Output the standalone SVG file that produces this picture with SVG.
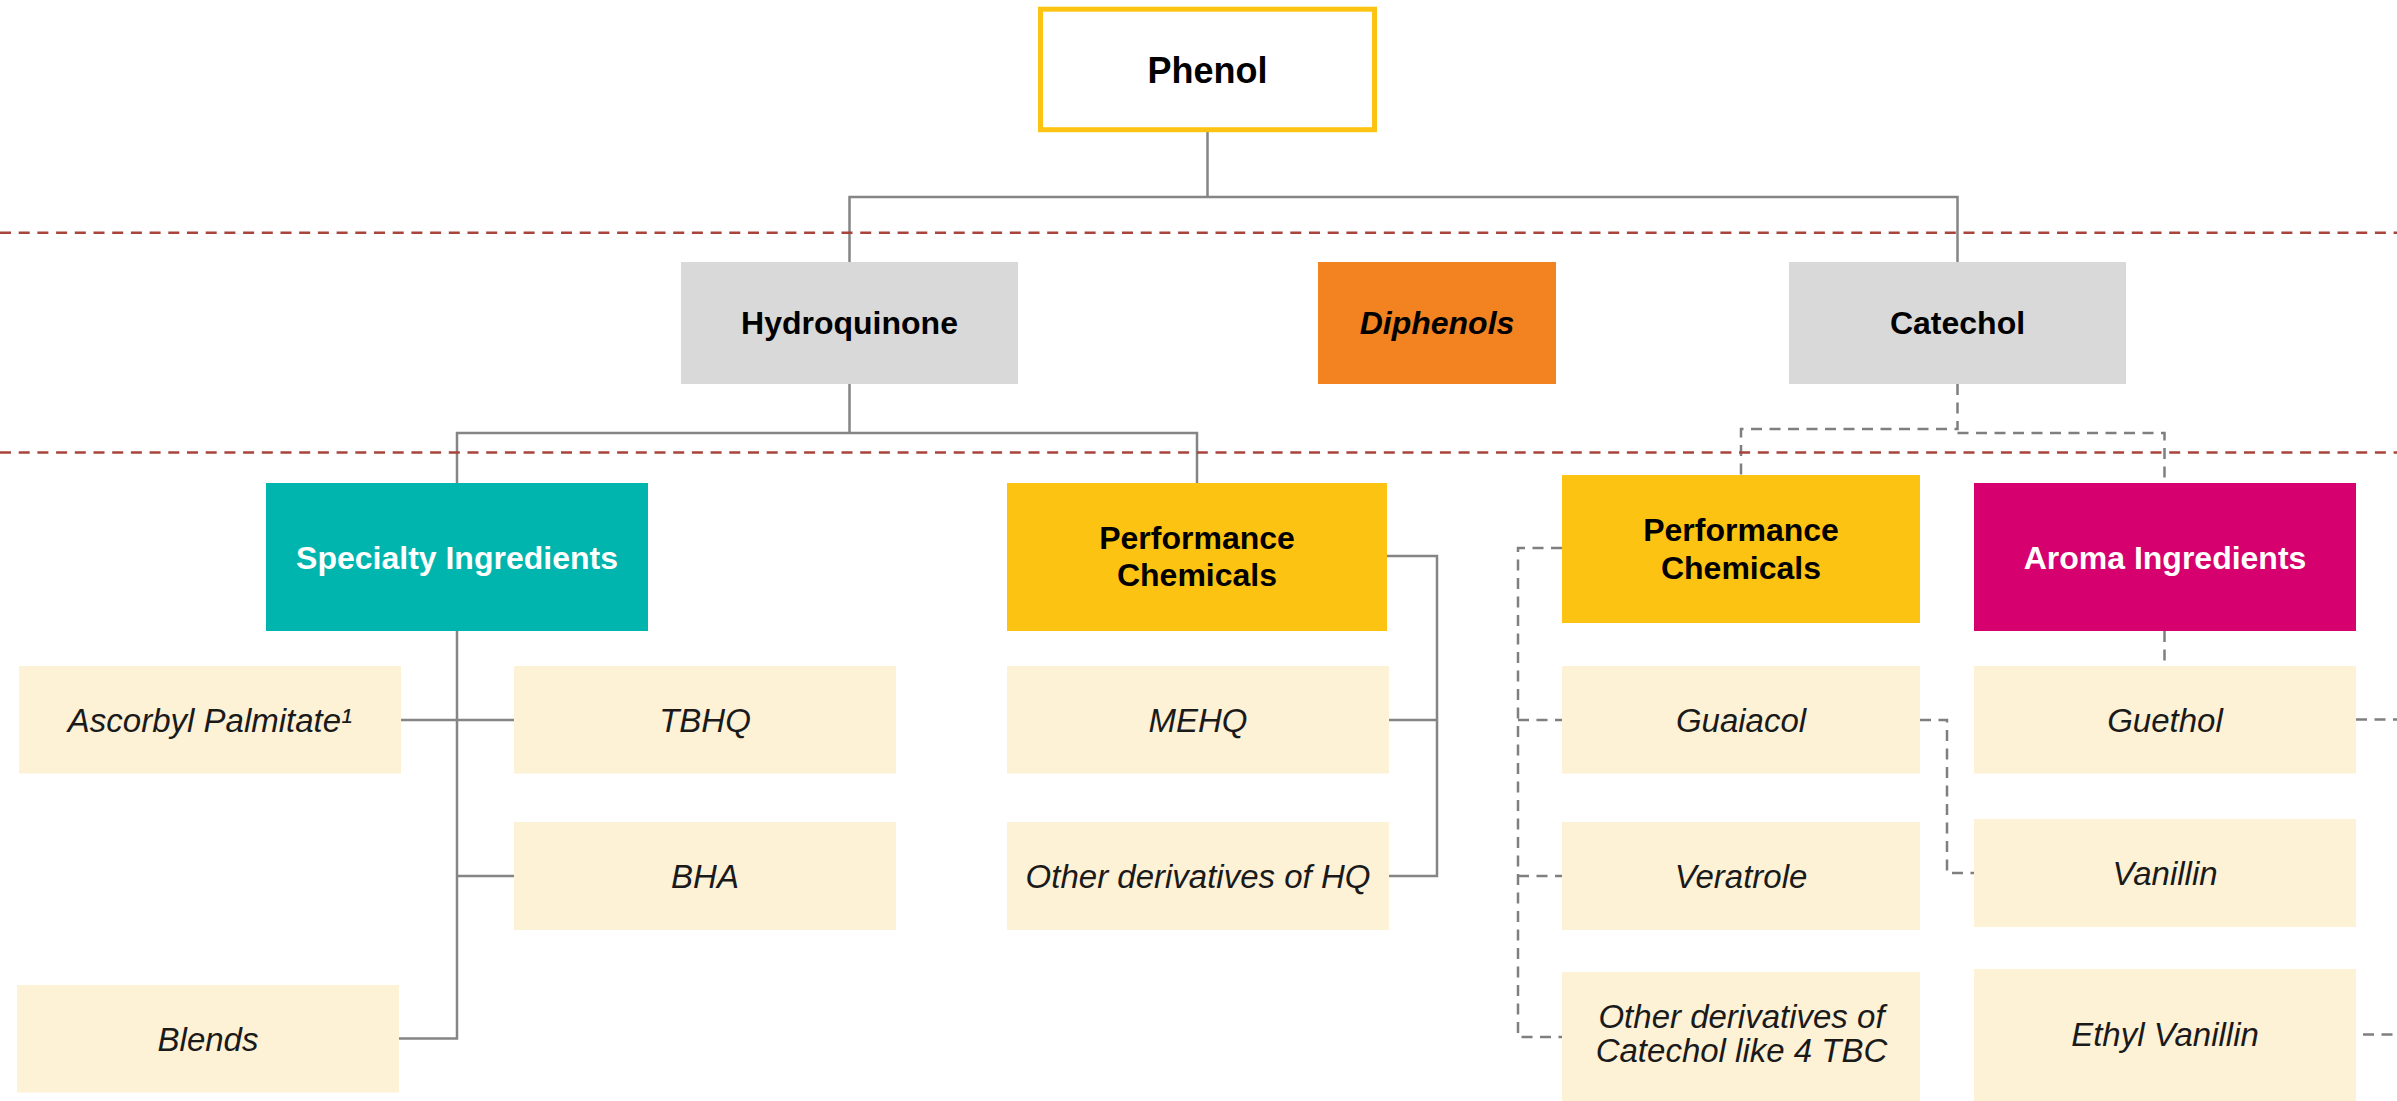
<svg xmlns="http://www.w3.org/2000/svg" width="2397" height="1101" viewBox="0 0 2397 1101">
  <style>
    .t { font-family: "Liberation Sans", Arial, sans-serif; text-anchor: middle; }
    .head { font-size: 32px; font-weight: bold; fill: #000; }
    .white { fill: #fff; }
    .item { font-size: 33px; font-style: italic; fill: #1a1a1a; }
    .cream { fill: #FDF1D6; }
    .grey { fill: #D9D9D9; }
    .yellow { fill: #FDC312; }
    .solid { fill: none; stroke: #858585; stroke-width: 2.5; }
    .dash { fill: none; stroke: #7F7F7F; stroke-width: 2.5; stroke-dasharray: 11 7.5; }
    .red { fill: none; stroke: #A8443C; stroke-width: 2.5; stroke-dasharray: 11 7.7; }
  </style>
  <rect width="2397" height="1101" fill="#fff"/>

  <g id="connectors">
    <path class="solid" d="M1207.5 132 V197 M849.5 262 V197 H1957.5 V262"/>
    <path class="solid" d="M849.5 384 V433 M457 483 V433 H1197 V483"/>
    <path class="solid" d="M457 631 V1038.5 H399 M401 720 H514 M457 876 H514"/>
    <path class="solid" d="M1387 556 H1437 V876 H1389 M1389 720 H1437"/>
    <path class="dash" d="M1957.5 384 V429 H1741 V475"/>
    <path class="dash" d="M1957.5 433 H2164.5 V483"/>
    <path class="dash" d="M2164.5 631 V666"/>
    <path class="dash" d="M1562 548 H1518 V1037 H1562 M1518 720 H1562 M1518 876 H1562"/>
    <path class="dash" d="M1920 720 H1947 V873 H1974"/>
    <path class="dash" d="M2356 719.5 H2397"/>
    <path class="dash" d="M2363 1034.5 H2397"/>
  </g>

  <g id="levels">
    <line class="red" x1="0" y1="232.7" x2="2397" y2="232.7"/>
    <line class="red" x1="0" y1="452.5" x2="2397" y2="452.5"/>
  </g>

  <g id="phenol">
    <rect x="1040.5" y="9.2" width="334" height="120.5" fill="#fff" stroke="#FDC312" stroke-width="5"/>
    <text class="t head" x="1207.5" y="82.7" style="font-size:36px">Phenol</text>
  </g>
  <g id="hydroquinone">
    <rect class="grey" x="681" y="262" width="337" height="122"/>
    <text class="t head" x="849.5" y="334">Hydroquinone</text>
  </g>
  <g id="diphenols">
    <rect x="1318" y="262" width="238" height="122" fill="#F38321"/>
    <text class="t head" x="1437" y="334" font-style="italic">Diphenols</text>
  </g>
  <g id="catechol">
    <rect class="grey" x="1789" y="262" width="337" height="122"/>
    <text class="t head" x="1957.5" y="334">Catechol</text>
  </g>

  <g id="specialty-ingredients">
    <rect x="266" y="483" width="382" height="148" fill="#00B5AD"/>
    <text class="t head white" x="457" y="568.5">Specialty Ingredients</text>
  </g>
  <g id="performance-chemicals-hq">
    <rect class="yellow" x="1007" y="483" width="380" height="148"/>
    <text class="t head" x="1197" y="548.8">Performance</text>
    <text class="t head" x="1197" y="586">Chemicals</text>
  </g>
  <g id="performance-chemicals-catechol">
    <rect class="yellow" x="1562" y="475" width="358" height="148"/>
    <text class="t head" x="1741" y="541.3">Performance</text>
    <text class="t head" x="1741" y="578.7">Chemicals</text>
  </g>
  <g id="aroma-ingredients">
    <rect x="1974" y="483" width="382" height="148" fill="#D6006F"/>
    <text class="t head white" x="2165" y="568.5">Aroma Ingredients</text>
  </g>

  <g id="ascorbyl-palmitate">
    <rect class="cream" x="19" y="666" width="382" height="107.5"/>
    <text class="t item" x="210" y="731.7">Ascorbyl Palmitate¹</text>
  </g>
  <g id="tbhq">
    <rect class="cream" x="514" y="666" width="382" height="107.5"/>
    <text class="t item" x="705" y="731.7">TBHQ</text>
  </g>
  <g id="bha">
    <rect class="cream" x="514" y="822" width="382" height="108"/>
    <text class="t item" x="705" y="887.5">BHA</text>
  </g>
  <g id="blends">
    <rect class="cream" x="17" y="985" width="382" height="107.5"/>
    <text class="t item" x="208" y="1050.5">Blends</text>
  </g>
  <g id="mehq">
    <rect class="cream" x="1007" y="666" width="382" height="107.5"/>
    <text class="t item" x="1198" y="731.7">MEHQ</text>
  </g>
  <g id="other-derivatives-hq">
    <rect class="cream" x="1007" y="822" width="382" height="108"/>
    <text class="t item" x="1198" y="887.5">Other derivatives of HQ</text>
  </g>
  <g id="guaiacol">
    <rect class="cream" x="1562" y="666" width="358" height="107.5"/>
    <text class="t item" x="1741" y="731.7">Guaiacol</text>
  </g>
  <g id="veratrole">
    <rect class="cream" x="1562" y="822" width="358" height="108"/>
    <text class="t item" x="1741" y="887.5">Veratrole</text>
  </g>
  <g id="other-derivatives-catechol">
    <rect class="cream" x="1562" y="972" width="358" height="129"/>
    <text class="t item" x="1741.5" y="1028.3">Other derivatives of</text>
    <text class="t item" x="1741.5" y="1061.7">Catechol like 4 TBC</text>
  </g>
  <g id="guethol">
    <rect class="cream" x="1974" y="666" width="382" height="107.5"/>
    <text class="t item" x="2165" y="731.7">Guethol</text>
  </g>
  <g id="vanillin">
    <rect class="cream" x="1974" y="819" width="382" height="108"/>
    <text class="t item" x="2165" y="885">Vanillin</text>
  </g>
  <g id="ethyl-vanillin">
    <rect class="cream" x="1974" y="969" width="382" height="132"/>
    <text class="t item" x="2165" y="1046">Ethyl Vanillin</text>
  </g>
</svg>
